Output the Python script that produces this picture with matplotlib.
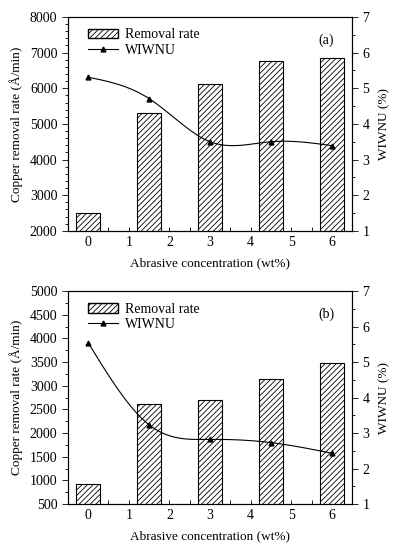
import matplotlib
matplotlib.use("Agg")
import matplotlib.pyplot as plt
from matplotlib.ticker import MultipleLocator
from matplotlib.lines import Line2D
from matplotlib.patches import Patch
import numpy as np

plt.rcParams['font.family'] = ['Liberation Serif', 'DejaVu Serif']
plt.rcParams['font.size'] = 10
plt.rcParams['hatch.linewidth'] = 0.6

conc = [0, 1.5, 3, 4.5, 6]

rate_a = [2500, 5300, 6120, 6770, 6840]
wiwnu_a = [5.31, 4.71, 3.50, 3.50, 3.39]

rate_b = [930, 2620, 2700, 3140, 3480]
wiwnu_b = [5.54, 3.23, 2.82, 2.73, 2.43]

xticks = [0, 1, 2, 3, 4, 5, 6]


def natural_spline(x, y, n=200):
    # plain natural cubic spline, only used to draw the smooth line
    x = np.asarray(x, float)
    y = np.asarray(y, float)
    k = len(x)
    h = np.diff(x)
    A = np.zeros((k, k))
    r = np.zeros(k)
    A[0, 0] = A[-1, -1] = 1
    for i in range(1, k - 1):
        A[i, i - 1] = h[i - 1]
        A[i, i] = 2 * (h[i - 1] + h[i])
        A[i, i + 1] = h[i]
        r[i] = 3 * ((y[i + 1] - y[i]) / h[i] - (y[i] - y[i - 1]) / h[i - 1])
    c = np.linalg.solve(A, r)
    xs = np.linspace(x[0], x[-1], n)
    ys = np.empty_like(xs)
    for j, xv in enumerate(xs):
        i = min(np.searchsorted(x, xv, side='right') - 1, k - 2)
        b = (y[i + 1] - y[i]) / h[i] - h[i] * (2 * c[i] + c[i + 1]) / 3
        d = (c[i + 1] - c[i]) / (3 * h[i])
        t = xv - x[i]
        ys[j] = y[i] + b * t + c[i] * t ** 2 + d * t ** 3
    return xs, ys


def panel(ax, rates, wiwnu, ylim, major, minor, tag):
    ax.bar(conc, rates, width=0.6, color='white', edgecolor='black',
           hatch='//////', linewidth=0.8, zorder=2)
    ax.set_xlim(-0.5, 6.5)
    ax.set_ylim(*ylim)
    ax.set_xticks(xticks)
    ax.xaxis.set_minor_locator(MultipleLocator(0.5))
    ax.yaxis.set_major_locator(MultipleLocator(major))
    ax.yaxis.set_minor_locator(MultipleLocator(minor))
    ax.tick_params(axis='x', which='both', direction='in', length=3, width=0.6)
    ax.tick_params(axis='y', which='major', direction='out', length=4, width=0.6)
    ax.tick_params(axis='y', which='minor', direction='out', length=2, width=0.6)
    ax.set_xlabel('Abrasive concentration (wt%)', labelpad=6, fontsize=9.5)
    ax.set_ylabel('Copper removal rate (Å/min)', labelpad=5, fontsize=9.5)
    for s in ax.spines.values():
        s.set_linewidth(0.8)

    ax2 = ax.twinx()
    xs, ys = natural_spline(conc, wiwnu)
    ax2.plot(xs, ys, color='black', linewidth=0.8)
    ax2.plot(conc, wiwnu, linestyle='none', marker='^', color='black',
             markersize=3.5)
    ax2.set_ylim(1, 7)
    ax2.yaxis.set_major_locator(MultipleLocator(1))
    ax2.yaxis.set_minor_locator(MultipleLocator(0.5))
    ax2.tick_params(axis='y', which='major', direction='out', length=4, width=0.6)
    ax2.tick_params(axis='y', which='minor', direction='out', length=2, width=0.6)
    ax2.set_ylabel('WIWNU (%)', labelpad=6, fontsize=9.5)

    handles = [Patch(facecolor='white', edgecolor='black', hatch='//////'),
               Line2D([], [], color='black', linewidth=0.8, marker='^',
                      markersize=3.5)]
    ax2.legend(handles, ['Removal rate', 'WIWNU'], loc='upper left',
               bbox_to_anchor=(0.04, 0.985), frameon=False, handlelength=2.2,
               handletextpad=0.5, labelspacing=0.15, borderaxespad=0.2,
               fontsize=10)
    ax2.text(0.91, 0.89, tag, transform=ax2.transAxes, ha='center',
             va='center')


fig = plt.figure(figsize=(3.97, 5.47), dpi=100)
ax_a = fig.add_axes([0.171, 0.578, 0.716, 0.391])
ax_b = fig.add_axes([0.171, 0.0786, 0.716, 0.3894])

panel(ax_a, rate_a, wiwnu_a, (2000, 8000), 1000, 200, '(a)')
panel(ax_b, rate_b, wiwnu_b, (500, 5000), 500, 250, '(b)')

fig.savefig('out.png', dpi=100)
